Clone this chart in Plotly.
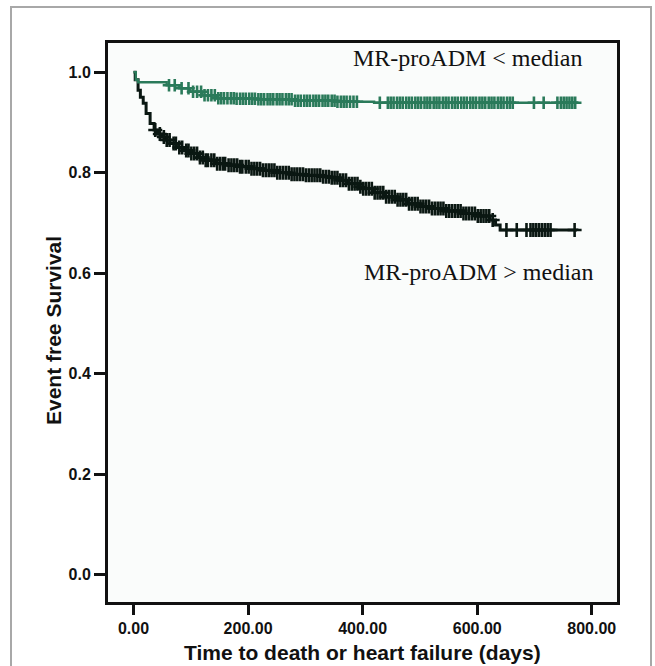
import numpy as np
import plotly.graph_objects as go

# ---- data ----
high_time = [0, 3, 8, 12, 17, 22, 29, 36, 42, 49, 56, 64, 75, 87, 99, 112, 125, 145, 165, 186,
             205, 226, 250, 273, 300, 331, 343, 360, 375, 392, 400, 420, 440, 459, 480, 500, 517,
             545, 575, 600, 622, 632, 640, 774]
high_surv = [1.0, 0.985, 0.964, 0.95, 0.938, 0.918, 0.898, 0.885, 0.877, 0.871, 0.865, 0.858, 0.850,
             0.844, 0.838, 0.830, 0.825, 0.818, 0.815, 0.812, 0.808, 0.805, 0.800, 0.797, 0.795,
             0.792, 0.790, 0.785, 0.778, 0.772, 0.768, 0.760, 0.752, 0.746, 0.738, 0.733, 0.729,
             0.724, 0.719, 0.714, 0.706, 0.696, 0.686, 0.684]
high_censor = [38, 46, 53, 58, 63, 70, 74, 80, 85, 92, 96, 101, 106, 111, 116, 121, 126, 130, 136,
               141, 146, 151, 156, 160, 166, 171, 176, 181, 186, 190, 196, 201, 206, 211, 216, 221,
               226, 231, 236, 241, 246, 251, 256, 261, 266, 271, 276, 281, 286, 291, 296, 301, 306,
               311, 316, 321, 326, 331, 336, 341, 346, 351, 356, 361, 366, 371, 376, 381, 386, 391,
               396, 401, 406, 411, 416, 421, 426, 431, 436, 441, 446, 451, 456, 461, 466, 471, 476,
               481, 486, 491, 496, 501, 506, 511, 516, 521, 526, 531, 536, 541, 546, 551, 556, 561,
               566, 571, 576, 581, 586, 591, 596, 601, 606, 611, 616, 621, 627, 651, 669, 686, 693,
               698, 703, 708, 713, 718, 723, 728, 770]

low_time = [0, 4, 8, 58, 80, 99, 120, 145, 180, 215, 280, 355, 420, 774]
low_surv = [1.0, 0.985, 0.980, 0.974, 0.968, 0.961, 0.954, 0.948, 0.947, 0.946, 0.943, 0.941, 0.939, 0.938]
low_censor = [62, 72, 84, 96, 104, 111, 118, 124, 130, 136, 142, 148, 153, 158, 164, 170, 175, 180,
              186, 191, 196, 202, 207, 212, 218, 223, 228, 234, 239, 244, 250, 255, 260, 266, 271,
              276, 282, 287, 292, 298, 303, 308, 314, 319, 324, 330, 335, 340, 346, 351, 356, 362,
              367, 372, 378, 384, 390, 430, 444, 449, 454, 460, 465, 470, 476, 481, 486, 492, 497,
              502, 508, 513, 518, 524, 529, 534, 540, 545, 550, 556, 561, 566, 572, 577, 582, 588,
              593, 598, 604, 609, 614, 620, 625, 630, 636, 641, 646, 652, 657, 662, 699, 716, 740,
              746, 751, 756, 761, 766, 771]

x_ticks = [0, 200, 400, 600, 800]
x_ticklabels = ["0.00", "200.00", "400.00", "600.00", "800.00"]
y_ticks = [0.0, 0.2, 0.4, 0.6, 0.8, 1.0]
y_ticklabels = ["0.0", "0.2", "0.4", "0.6", "0.8", "1.0"]

label_low = "MR-proADM < median"
label_high = "MR-proADM > median"
x_title = "Time to death or heart failure (days)"
y_title = "Event free Survival"

GREEN = "#2a7a5a"
BLACK = "#0a1712"


def step_value(times, surv, t):
    idx = np.searchsorted(np.array(times), t, side="right") - 1
    return np.array(surv)[idx]


fig = go.Figure()
for times, surv, cens, col, lw, ms in [
    (high_time, high_surv, high_censor, BLACK, 3.0, 10),
    (low_time, low_surv, low_censor, GREEN, 2.4, 9),
]:
    fig.add_trace(go.Scatter(x=times, y=surv, mode="lines", line=dict(color=col, width=lw, shape="hv"),
                             showlegend=False, hoverinfo="skip"))
    fig.add_trace(go.Scatter(x=cens, y=step_value(times, surv, cens), mode="markers",
                             marker=dict(symbol="cross-thin", size=ms, line=dict(color=col, width=2.6)),
                             showlegend=False, hoverinfo="skip"))

axis_font = dict(family="Liberation Sans, Arial", size=16, color="#111111", weight=700)
fig.update_xaxes(range=[-44.5, 844], tickvals=x_ticks, ticktext=x_ticklabels, ticks="outside",
                 ticklen=10, tickwidth=2.5, tickcolor="#111111", showline=True, linewidth=3,
                 linecolor="#111111", mirror=True, showgrid=False, zeroline=False, tickfont=axis_font)
fig.update_yaxes(range=[-0.054, 1.058], tickvals=y_ticks, ticktext=y_ticklabels, ticks="outside",
                 ticklen=11, tickwidth=2.5, tickcolor="#111111", showline=True, linewidth=3,
                 linecolor="#111111", mirror=True, showgrid=False, zeroline=False, tickfont=axis_font)

W, H = 655, 666
L, R, T, B = 108, 38, 43, 64
pw, ph = W - L - R, H - T - B


def px(xp):
    return (xp - L) / pw


def py(yp):
    return (H - B - yp) / ph


title_font = dict(family="Liberation Sans, Arial", size=21, color="#111111", weight=700)
serif = dict(family="Liberation Serif, Times New Roman", size=24, color="#111111")
fig.update_layout(
    width=W, height=H, margin=dict(l=L, r=R, t=T, b=B),
    paper_bgcolor="white", plot_bgcolor="#fafcfb",
    shapes=[
        dict(type="rect", xref="paper", yref="paper", x0=px(11), x1=px(651), y0=py(700), y1=py(7),
             line=dict(color="#a8a8a8", width=2), fillcolor="rgba(0,0,0,0)", layer="below"),
    ],
    annotations=[
        dict(text=label_low, xref="paper", yref="paper", x=px(585), y=py(58), xanchor="right",
             yanchor="middle", showarrow=False, font=serif),
        dict(text=label_high, xref="paper", yref="paper", x=px(362), y=py(272), xanchor="left",
             yanchor="middle", showarrow=False, font=serif),
        dict(text=x_title, xref="paper", yref="paper", x=px(362), y=py(666), xanchor="center",
             yanchor="bottom", showarrow=False, font=title_font),
        dict(text=y_title, xref="paper", yref="paper", x=px(53), y=py(331), xanchor="center",
             yanchor="middle", showarrow=False, textangle=-90, font=title_font),
    ],
)

fig.write_html("out.html", config={"displayModeBar": False},
               post_script="document.body.style.margin='0px';document.body.style.overflow='hidden';")
